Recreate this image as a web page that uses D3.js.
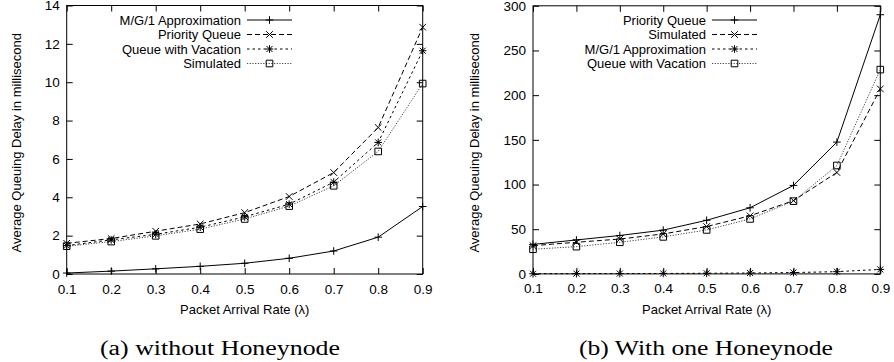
<!DOCTYPE html>
<html>
<head>
<meta charset="utf-8">
<script src="https://cdn.jsdelivr.net/npm/d3@7"></script>
<style>
  body { margin: 0; background: #fff; }
  svg { display: block; }
  text { font-family: "Liberation Sans", Arial, sans-serif; fill: #000; }
  .caption { font-family: "Liberation Serif", "DejaVu Serif", serif; }
</style>
</head>
<body>
<svg id="chart" width="894" height="362"></svg>
<script>
// arrival rates on the x axis
const rates = [0.1, 0.2, 0.3, 0.4, 0.5, 0.6, 0.7, 0.8, 0.9];

// (a) without Honeynode, delay in ms
const aNames = ['M/G/1 Approximation', 'Priority Queue', 'Queue with Vacation', 'Simulated'];
const aMg1 = [0.05, 0.15, 0.27, 0.4, 0.56, 0.82, 1.2, 1.92, 3.52];
const aPriority = [1.6, 1.85, 2.23, 2.61, 3.2, 4.04, 5.29, 7.64, 12.87];
const aVacation = [1.48, 1.78, 2.07, 2.44, 2.98, 3.64, 4.79, 6.86, 11.64];
const aSimulated = [1.45, 1.69, 1.99, 2.34, 2.87, 3.54, 4.6, 6.39, 9.93];
const aYTicks = [0, 2, 4, 6, 8, 10, 12, 14];

// (b) with one Honeynode, delay in ms
const bNames = ['Priority Queue', 'Simulated', 'M/G/1 Approximation', 'Queue with Vacation'];
const bPriority = [33, 38, 43, 49, 60, 74, 99, 147.5, 290];
const bSimulated = [31.6, 35.4, 39, 44.7, 53, 65, 82, 113.5, 207];
const bMg1 = [0.2, 0.3, 0.4, 0.5, 0.7, 1.0, 1.5, 2.5, 5];
const bVacation = [27.6, 30.5, 35.4, 41.4, 49.2, 61.5, 81.4, 121.3, 228.6];
const bYTicks = [0, 50, 100, 150, 200, 250, 300];

// gnuplot-ish line types 1..4
const lineTypes = [
    {dash: null, color: '#000', marker: 'plus'},
    {dash: '5,3', color: '#000', marker: 'cross'},
    {dash: '2.5,3', color: '#000', marker: 'star'},
    {dash: '1.2,1.5', color: '#444', marker: 'box'}
];

const svg = d3.select('#chart');

function drawMarker(g, type, x, y) {
    const s = 3.8;
    let p = '';
    if (type === 'plus' || type === 'star') {
        p += `M${x - s},${y}H${x + s}M${x},${y - s}V${y + s}`;
    }
    if (type === 'cross' || type === 'star') {
        const c = type === 'star' ? 3 : 3.3;
        p += `M${x - c},${y - c}L${x + c},${y + c}M${x - c},${y + c}L${x + c},${y - c}`;
    }
    if (type === 'box') {
        p += `M${x - 3.3},${y - 3.3}h6.6v6.6h-6.6Z`;
    }
    g.append('path').attr('d', p).attr('fill', 'none').attr('stroke', '#000').attr('stroke-width', 1);
}

function drawPanel(opt) {
    const x = d3.scaleLinear().domain([0.1, 0.9]).range([opt.left, opt.right]);
    const y = d3.scaleLinear().domain([0, opt.yMax]).range([opt.bottom, opt.top]);
    const g = svg.append('g');

    // frame
    g.append('rect')
        .attr('x', opt.left).attr('y', opt.top)
        .attr('width', opt.right - opt.left).attr('height', opt.bottom - opt.top)
        .attr('fill', 'none').attr('stroke', '#000').attr('stroke-width', 1);

    // ticks on all four sides, pointing inward
    const tl = 6;
    g.append('g').attr('transform', `translate(0,${opt.bottom})`)
        .call(d3.axisBottom(x).tickValues(rates).tickSize(-tl).tickPadding(10).tickFormat(d3.format('.1f')))
        .call(a => a.select('.domain').remove());
    g.append('g').attr('transform', `translate(0,${opt.top})`)
        .call(d3.axisTop(x).tickValues(rates).tickSize(-tl).tickFormat(''))
        .call(a => a.select('.domain').remove());
    g.append('g').attr('transform', `translate(${opt.left},0)`)
        .call(d3.axisLeft(y).tickValues(opt.yTicks).tickSize(-tl).tickPadding(7))
        .call(a => a.select('.domain').remove());
    g.append('g').attr('transform', `translate(${opt.right},0)`)
        .call(d3.axisRight(y).tickValues(opt.yTicks).tickSize(-tl).tickFormat(''))
        .call(a => a.select('.domain').remove());
    g.selectAll('.tick text').attr('font-size', 13.5).attr('font-family', '"Liberation Sans", Arial, sans-serif');
    g.selectAll('.tick line').attr('stroke', '#000');

    // axis titles
    g.append('text')
        .attr('transform', `translate(${opt.yLabelX},${(opt.top + opt.bottom) / 2 + 3}) rotate(-90)`)
        .attr('text-anchor', 'middle').attr('font-size', 13)
        .text('Average Queuing Delay in millisecond');
    g.append('text')
        .attr('x', (opt.left + opt.right) / 2).attr('y', 314)
        .attr('text-anchor', 'middle').attr('font-size', 13)
        .text('Packet Arrival Rate (\u03bb)');

    // series
    const line = d3.line().x((d, i) => x(rates[i])).y(d => y(d));
    opt.series.forEach((vals, k) => {
        const lt = lineTypes[k];
        g.append('path').datum(vals)
            .attr('d', line)
            .attr('fill', 'none').attr('stroke', lt.color).attr('stroke-width', 1)
            .attr('stroke-dasharray', lt.dash);
        vals.forEach((v, i) => drawMarker(g, lt.marker, x(rates[i]), y(v)));

        // legend entry
        const ly = 20 + k * 14.5;
        g.append('text')
            .attr('x', opt.legendX).attr('y', ly + 4.5)
            .attr('text-anchor', 'end').attr('font-size', 13)
            .text(opt.names[k]);
        g.append('line')
            .attr('x1', opt.legendX + 6).attr('x2', opt.legendX + 51)
            .attr('y1', ly).attr('y2', ly)
            .attr('stroke', lt.color).attr('stroke-width', 1)
            .attr('stroke-dasharray', lt.dash);
        drawMarker(g, lt.marker, opt.legendX + 28.5, ly);
    });

    // caption under the subfigure
    svg.append('text').attr('class', 'caption')
        .attr('x', opt.captionX).attr('y', 355)
        .attr('text-anchor', 'middle').attr('font-size', 20)
        .attr('textLength', opt.captionW).attr('lengthAdjust', 'spacingAndGlyphs')
        .text(opt.caption);
}

drawPanel({
    left: 66.7, right: 422.7, top: 5.5, bottom: 274,
    yMax: 14, yTicks: aYTicks, yLabelX: 21,
    names: aNames, series: [aMg1, aPriority, aVacation, aSimulated],
    legendX: 241, captionX: 220, captionW: 240, caption: '(a) without Honeynode'
});

drawPanel({
    left: 533, right: 880.3, top: 5.8, bottom: 273.9,
    yMax: 300, yTicks: bYTicks, yLabelX: 479,
    names: bNames, series: [bPriority, bSimulated, bMg1, bVacation],
    legendX: 706, captionX: 706, captionW: 254, caption: '(b) With one Honeynode'
});
</script>
</body>
</html>
